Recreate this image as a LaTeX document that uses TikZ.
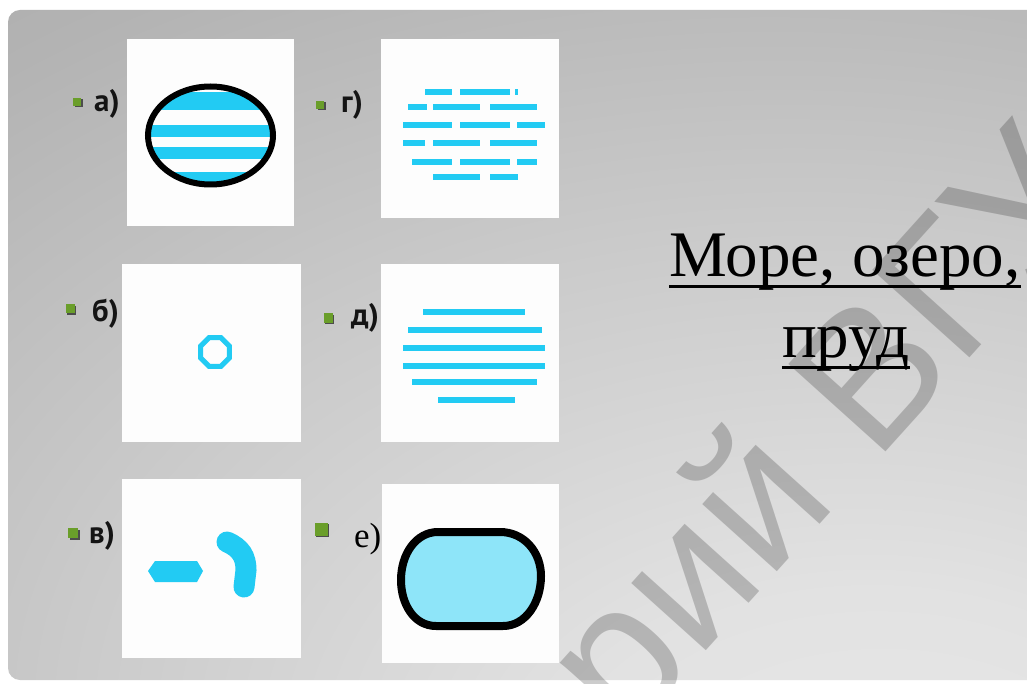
\documentclass[tikz,border=0pt]{standalone}
\usepackage{fontspec}
\setmainfont{Liberation Serif}
\newfontfamily\lblfont{PT Sans}
\newfontfamily\wmfont{Liberation Sans}
\usetikzlibrary{calc}
\definecolor{stripe}{HTML}{22CBF3}
\definecolor{pond}{HTML}{8EE5F9}
\definecolor{bulletgreen}{HTML}{6A9E2A}
\definecolor{bgA}{HTML}{E9E9E9}
\definecolor{bgA2}{HTML}{E2E2E2}
\definecolor{bgB}{HTML}{CBCBCB}
\definecolor{bgC}{HTML}{B3B3B3}
\definecolor{bgD}{HTML}{A3A3A3}
\definecolor{bgE}{HTML}{999999}
\definecolor{panelwhite}{HTML}{FDFDFD}
\pgfdeclareradialshading{slidebg}{\pgfpoint{19bp}{-38bp}}{color(0bp)=(bgA); color(15bp)=(bgA2); color(35bp)=(bgB); color(55bp)=(bgC); color(75bp)=(bgD); color(125bp)=(bgE)}
\tikzset{
  panel/.style={fill=panelwhite, draw=none},
  lbl/.style={font=\lblfont\bfseries\fontsize{31}{34}\selectfont, text=black!92, anchor=base west, inner sep=0pt},
  lblserif/.style={font=\fontsize{35}{38}\selectfont, text=black, anchor=base west, inner sep=0pt},
  bulletsq/.style={fill=bulletgreen, draw=none},
  bulletshadow/.style={fill=black!70, draw=none},
  titletext/.style={font=\fontsize{65}{78}\selectfont, anchor=base, inner sep=0pt, text=black},
  water/.style={fill=stripe, draw=none},
}
\newcommand{\bulletat}[3]{% x, y, size
  \fill[bulletshadow] (#1-#3/2+1.5,#2-#3/2+1.5) rectangle (#1+#3/2+1.5,#2+#3/2+1.5);
  \fill[bulletsq] (#1-#3/2,#2-#3/2) rectangle (#1+#3/2,#2+#3/2);
}
\begin{document}
\begin{tikzpicture}[x=1pt,y=-1pt]
\useasboundingbox (0,0) rectangle (1027,684);
\clip (0,0) rectangle (1027,684);
\fill[white] (0,0) rectangle (1027,684);
% slide background
\shade[shading=slidebg, rounded corners=12pt] (8,10) rectangle (1045,680);

% panels
\fill[panel] (127,39) rectangle (294,226);
\fill[panel] (381,39) rectangle (559,218);
\fill[panel] (122,264) rectangle (301,442);
\fill[panel] (381,264) rectangle (559,442);
\fill[panel] (122,479) rectangle (301,658);
\fill[panel] (382,484) rectangle (559,663);

% a) striped lake with outline
\begin{scope}
  \clip (210.5,135.5) ellipse [x radius=62, y radius=48.5];
  \foreach \ya/\yb in {92/110, 125/137, 147/159, 172/190}
    \fill[water] (140,\ya) rectangle (280,\yb);
\end{scope}
\draw[line width=6pt, black] (210.5,135.5) ellipse [x radius=62.5, y radius=49];

% г) brick pattern
\foreach \yy/\xa/\xb in {92/425/452, 92/460/510, 92/515/518,
  107/408/427, 107/433/480, 107/490/537,
  125/403/452, 125/460/510, 125/517/545,
  143/403/425, 143/433/480, 143/490/537,
  162/412/452, 162/460/510, 162/517/537,
  177/433/480, 177/490/518}
  \fill[water] (\xa,\yy-3) rectangle (\xb,\yy+3);

% б) small octagon ring
\draw[stripe, line width=5pt, shift={(215,352)}]
  (22.5:15.5) -- (67.5:15.5) -- (112.5:15.5) -- (157.5:15.5) -- (202.5:15.5)
  -- (247.5:15.5) -- (292.5:15.5) -- (337.5:15.5) -- cycle;

% д) horizontal stripes
\foreach \yy/\xa/\xb in {312/423/525, 330/408/542, 348/403/545, 366/403/545, 382/412/537, 400/438/515}
  \fill[water] (\xa,\yy-3) rectangle (\xb,\yy+3);

% в) stream fragments
\fill[water] (148,571) -- (155,561) -- (197,561) -- (203,571) -- (197,582) -- (155,582) -- cycle;
\draw[stripe, line width=21pt, line cap=round]
  (227,542) .. controls (241,548) and (246,557) .. (246,570) -- (244,587);

% е) pond
\draw[black, fill=pond, line width=8pt]
  (438,532) -- (500,532) .. controls (524,532) and (541,552) .. (541,576)
  .. controls (541,602) and (526,626) .. (503,626) -- (436,626)
  .. controls (414,626) and (401,604) .. (401,580)
  .. controls (401,554) and (416,532) .. (438,532) -- cycle;

% bullets and labels
\bulletat{77}{102}{8}
\node[lbl] (la) at (94,112) {а)};
\bulletat{320}{105}{8}
\node[lbl] (lg) at (341,113) {г)};
\bulletat{70}{309}{9}
\node[lbl] (lb) at (92,321) {б)};
\bulletat{328}{318}{9}
\node[lbl] (ld) at (351,326) {д)};
\bulletat{73}{533}{10}
\node[lbl] (lv) at (89,543) {в)};
\bulletat{321}{529}{13}
\node[lblserif] (le) at (354,547) {е)};

% title
\node[titletext] (t1) at (845,277) {Море, озеро,};
\node[titletext] (t2) at (846,357) {пруд};
\draw[line width=3pt] ([yshift=-10pt]t1.base west) -- ([yshift=-10pt]t1.base east);
\draw[line width=3pt] ([yshift=-10pt]t2.base west) -- ([yshift=-10pt]t2.base east);

% watermark
\node[rotate=48, text=black, opacity=0.2, font=\wmfont\fontsize{190}{200}\selectfont, inner sep=0pt] (wm) at (558,740) {Репозиторий ВГУ};
\end{tikzpicture}
\end{document}
